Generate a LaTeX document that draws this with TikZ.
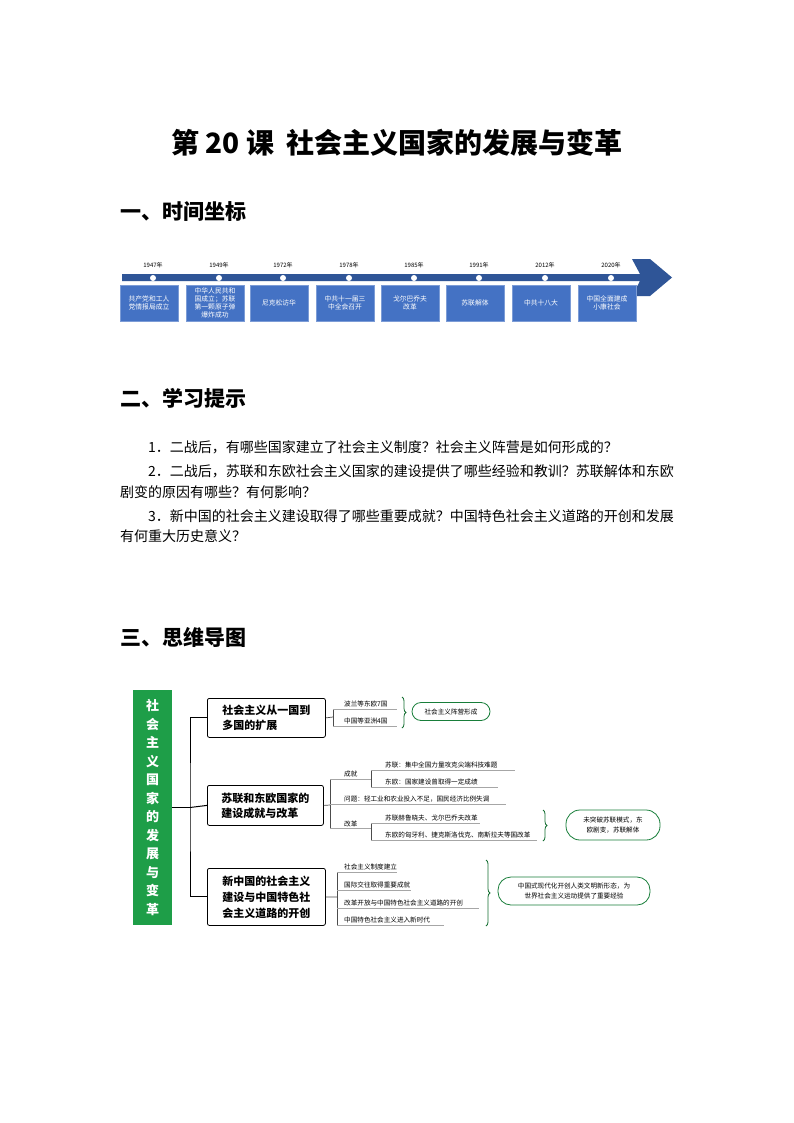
\documentclass[tikz,border=0pt]{standalone}
\usepackage{fontspec}
\setmainfont{Noto Sans CJK SC}
\usetikzlibrary{decorations.pathreplacing}
\definecolor{tlblue}{HTML}{4472C4}
\definecolor{tldark}{HTML}{2F5597}
\definecolor{mmgreen}{HTML}{1E9E48}
\begin{document}
\begin{tikzpicture}[x=1pt,y=-1pt,
 tbox/.style={fill=tlblue,draw=tlblue!70!white,minimum width=58pt,minimum height=36pt,align=center,text=white,font=\fontsize{6.8}{7.8}\selectfont,inner sep=1pt},
 yr/.style={font=\fontsize{6}{7}\selectfont},
 bbox/.style={draw,rounded corners=2pt,thick,align=left,font=\bfseries\fontsize{11}{15}\selectfont,anchor=north west,inner xsep=9pt,inner ysep=3pt},
 sm/.style={font=\fontsize{6.6}{7}\selectfont,anchor=south west,inner sep=1pt},
 ul/.style={draw=gray!70,line width=0.6pt},
 conn/.style={draw=gray!60!black,line width=0.7pt},
 oval/.style={draw=mmgreen!80!black,thick,rounded corners=10pt,align=center,font=\fontsize{6.6}{10}\selectfont,inner sep=3pt},
 brc/.style={draw=mmgreen!70!black,thick,decorate,decoration={brace,amplitude=4pt}},
 hd/.style={font=\bfseries\fontsize{21}{24}\selectfont,anchor=west,inner sep=0pt},
 para/.style={font=\fontsize{14}{16}\selectfont,anchor=west,inner sep=0pt}]
\path[use as bounding box,fill=white] (0,0) rectangle (794,1123);
\node[font=\bfseries\fontsize{28}{32}\selectfont] (title) at (397,143) {第 20 课\ \ 社会主义国家的发展与变革};
\node[hd] (h1) at (120,212) {一、时间坐标};
\node[hd] (h2) at (120,398) {二、学习提示};
\node[hd] (h3) at (120,637) {三、思维导图};
% timeline
\fill[tldark] (122,274) -- (640,274) -- (632,259) -- (650,259) -- (672,277.5) -- (650,296) -- (632,296) -- (640,281) -- (122,281) -- cycle;
\foreach \x/\y/\t [count=\i] in {149/1947/{共产党和工人\\党情报局成立},215/1949/{中华人民共和\\国成立；苏联\\第一颗原子弹\\爆炸成功},279/1972/{尼克松访华},345/1978/{中共十一届三\\中全会召开},410/1985/{戈尔巴乔夫\\改革},475/1991/{苏联解体},541/2012/{中共十八大},607/2020/{中国全面建成\\小康社会}}{
 \fill[white] (\x+4,278) circle (3pt);
 \node[yr] (y\i) at (\x+4,265) {\y 年};
 \node[tbox] (b\i) at (\x,303) {\t};
}
% tips
\node[para] (p1) at (148,447) {1．二战后，有哪些国家建立了社会主义制度？社会主义阵营是如何形成的？};
\node[para] (p2) at (148,471) {2．二战后，苏联和东欧社会主义国家的建设提供了哪些经验和教训？苏联解体和东欧};
\node[para] (p2b) at (120,492) {剧变的原因有哪些？有何影响？};
\node[para] (p3) at (148,516) {3．新中国的社会主义建设取得了哪些重要成就？中国特色社会主义道路的开创和发展};
\node[para] (p3b) at (120,536) {有何重大历史意义？};
% mind map
\node[fill=mmgreen,minimum width=39pt,minimum height=235pt,text=white,font=\bfseries\fontsize{13}{18.5}\selectfont,align=center] (root) at (152.5,807.5) {社\\会\\主\\义\\国\\家\\的\\发\\展\\与\\变\\革};
\node[bbox,minimum width=118pt,minimum height=39pt] (m1) at (207,698) {社会主义从一国到\\多国的扩展};
\node[bbox,minimum width=116pt,minimum height=40pt] (m2) at (207,785) {苏联和东欧国家的\\建设成就与改革};
\node[bbox,minimum width=118pt,minimum height=57pt,font=\bfseries\fontsize{11}{16}\selectfont] (m3) at (207,868) {新中国的社会主义\\建设与中国特色社\\会主义道路的开创};
\draw[line width=1pt] (root.east) -- (190,807.5);
\draw[line width=1pt] (m1.west) -| (190,807.5) |- (m3.west);
\draw[line width=1pt] (190,807.5) -- (m2.west);
% branch 1
\coordinate (j1) at (333,717);
\draw[conn] (m1.east) -- (j1);
\draw[conn] (333,709) -- (333,726);
\node[sm] (t11) at (343,708) {波兰等东欧7国};
\node[sm] (t12) at (343,725) {中国等亚洲4国};
\draw[ul] (333,709) -- (397,709); \draw[ul] (333,726) -- (397,726);
\draw[brc] (402,697) -- (402,728);
\node[oval,minimum width=78pt,minimum height=18pt,rounded corners=9pt] (o1) at (451,711.5) {社会主义阵营形成};
% branch 2
\coordinate (j2) at (330,805);
\draw[conn] (m2.east) -- (j2);
\draw[conn] (330,779) -- (330,828);
\node[sm] (c1) at (343,778) {成就};
\draw[ul] (330,779) -- (371,779);
\draw[conn] (371,770) -- (371,787);
\node[sm] (c11) at (384,769) {苏联：集中全国力量攻克尖端科技难题};
\node[sm] (c12) at (384,786) {东欧：国家建设曾取得一定成绩};
\draw[ul] (371,770) -- (515,770); \draw[ul] (371,787) -- (498,787);
\node[sm] (c2) at (343,803) {问题：轻工业和农业投入不足，国民经济比例失调};
\draw[ul] (330,804) -- (506,804);
\node[sm] (c3) at (343,828) {改革};
\draw[ul] (330,828) -- (371,828);
\draw[conn] (371,823) -- (371,840);
\node[sm] (c31) at (384,822) {苏联赫鲁晓夫、戈尔巴乔夫改革};
\node[sm] (c32) at (384,839) {东欧的匈牙利、捷克斯洛伐克、南斯拉夫等国改革};
\draw[ul] (371,823) -- (480,823); \draw[ul] (371,840) -- (537,840);
\draw[brc] (543,810) -- (543,841);
\node[oval,minimum width=94pt,minimum height=30pt,rounded corners=14pt] (o2) at (613,825) {未突破苏联模式，东\\欧剧变，苏联解体};
% branch 3
\coordinate (j3) at (337,897);
\draw[conn] (m3.east) -- (j3);
\draw[conn] (337,872) -- (337,925);
\node[sm] (d1) at (343,871) {社会主义制度建立};
\node[sm] (d2) at (343,889) {国际交往取得重要成就};
\node[sm] (d3) at (343,907) {改革开放与中国特色社会主义道路的开创};
\node[sm] (d4) at (343,924) {中国特色社会主义进入新时代};
\draw[ul] (337,872) -- (397,872); \draw[ul] (337,890) -- (411,890);
\draw[ul] (337,908) -- (479,908); \draw[ul] (337,925) -- (444,925);
\draw[brc] (486,860) -- (486,926);
\node[oval,minimum width=152pt,minimum height=28pt,rounded corners=13pt] (o3) at (574,891) {中国式现代化开创人类文明新形态，为\\世界社会主义运动提供了重要经验};
\end{tikzpicture}
\end{document}
